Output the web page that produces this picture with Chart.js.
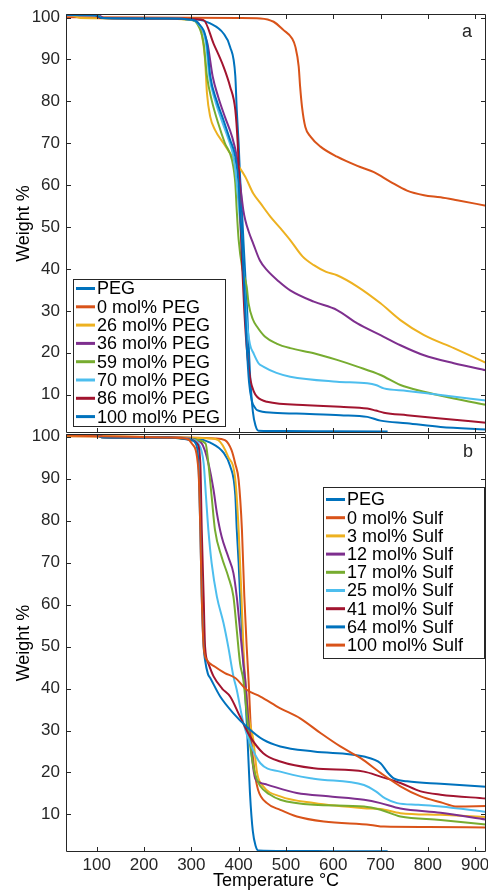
<!DOCTYPE html>
<html>
<head>
<meta charset="utf-8">
<script src="https://cdn.jsdelivr.net/npm/chart.js@4.4.1/dist/chart.umd.min.js"></script>
<style>
  body { margin: 0; background: #fff; width: 488px; height: 890px; overflow: hidden; position: relative; }
  canvas { position: absolute; left: 0; }
  #chartA { top: 0; }
  #chartB { top: 420px; }
</style>
</head>
<body>
<canvas id="chartA" width="488" height="440"></canvas>
<canvas id="chartB" width="488" height="470"></canvas>
<script>
// tick values
const xTicks = [100, 200, 300, 400, 500, 600, 700, 800, 900];
const yTicks = [10, 20, 30, 40, 50, 60, 70, 80, 90, 100];

const labelsA = ['PEG', '0 mol% PEG', '26 mol% PEG', '36 mol% PEG', '59 mol% PEG', '70 mol% PEG', '86 mol% PEG', '100 mol% PEG'];
const labelsB = ['PEG', '0 mol% Sulf', '3 mol% Sulf', '12 mol% Sulf', '17 mol% Sulf', '25 mol% Sulf', '41 mol% Sulf', '64 mol% Sulf', '100 mol% Sulf'];

// [temperature °C, weight %]
const peg = [[35,100.7],[100,100.6],[112,99.9],[250,99.8],[310,99.6],[340,98.6],[368,96.2],[382,93],[393,86],[396,78],[400,70],[403,62],[407,54],[410,47],[418,30],[424,15],[430,6],[436,2.5],[442,1.4],[500,1.3],[600,1.25],[715,1.2]];

// panel a
const a0 = [[35,100.1],[200,100],[400,99.9],[446,99.8],[474,99.0],[495,97.0],[513,95.0],[520,93.0],[527,88.3],[530,83.5],[534,78.7],[541,73.9],[552,71.6],[573,69.2],[608,66.8],[651,64.6],[686,63.1],[721,60.8],[756,58.7],[792,57.6],[827,57.1],[862,56.4],[923,55.1]];
const a26 = [[35,100.8],[50,100.5],[65,99.9],[200,99.8],[300,99.5],[315,98.5],[322,96.2],[329,90],[333,82],[340,76.3],[350,73.2],[368,70],[382,67.6],[396,65.2],[414,62],[431,58],[446,55.7],[467,52.5],[490,49.5],[509,46.9],[535,43],[559,40.9],[585,39.3],[608,38.5],[651,35.8],[700,31.8],[742,27.8],[792,24.2],[855,21.1],[923,17.6]];
const a36 = [[35,100.6],[105,100.5],[115,99.9],[250,99.8],[300,99.5],[315,98.6],[334,93.8],[345,86],[357,81],[371,76.3],[386,71.6],[396,66.8],[403,60.4],[410,54],[414,51.7],[421,49],[431,46],[445,42],[460,39.7],[485,37],[509,34.9],[559,32.2],[608,30.2],[651,27],[700,24.2],[742,21.8],[792,19.4],[855,17.5],[923,15.8]];
const a59 = [[35,100.8],[100,100.7],[110,99.9],[250,99.8],[300,99.4],[312,98.6],[326,93.8],[333,86],[343,80.3],[357,74.7],[371,70],[386,66],[393,60.4],[396,54],[400,47],[408,40],[417,35.8],[421,31.8],[430,28],[439,26.2],[456,23.8],[480,22.2],[509,21.1],[559,19.9],[608,18.3],[651,16.7],[700,14.7],[742,12.3],[792,10.7],[855,9.1],[923,7.6]];
const a70 = [[35,100.6],[100,100.5],[110,99.9],[250,99.8],[300,99.5],[314,98.6],[331,93.8],[338,86],[350,80.3],[364,75.5],[379,70.8],[389,66.8],[396,60.4],[401,54],[406,47],[412,36],[417,27.8],[424,22],[431,20],[442,17.5],[452,16.7],[480,15.2],[509,14.3],[608,13.1],[672,12.7],[690,12.3],[707,11.5],[756,10.9],[827,9.9],[923,8.6]];
const a86 = [[35,100.8],[95,100.7],[107,99.9],[250,99.8],[310,99.6],[326,99.4],[347,93.8],[368,88.3],[382,83.5],[393,77.9],[398,70],[401,62],[403,54],[407,42],[412,30],[418,20],[425,13.5],[432,10.8],[439,9.5],[460,8.3],[545,7.5],[615,7.1],[672,6.7],[690,6.2],[707,5.7],[756,5.1],[827,4.3],[923,3.3]];
const a100 = [[35,100.6],[100,100.5],[110,99.9],[250,99.8],[300,99.5],[315,98.6],[333,93.8],[340,86],[354,80],[368,75.5],[382,70.8],[393,66.8],[400,60.4],[403,54],[407,47],[412,35],[417,22],[422,13],[428,8.5],[435,6.8],[439,6.3],[473,5.7],[550,5.4],[615,5.1],[672,4.7],[700,3.8],[756,3.2],[827,2.3],[923,1.7]];

// panel b
const b0 = [[35,100.1],[250,99.9],[350,99.6],[371,99.2],[385,96.8],[393,93.5],[400,89.7],[407,77.8],[412,62],[417,50],[421,42],[427,27.8],[434,20],[441,15.9],[460,12.7],[488,11.1],[523,9.5],[580,8.3],[679,7.5],[707,7.1],[800,7.0],[923,6.9]];
const b3 = [[35,100.2],[250,99.9],[340,99.6],[357,99.2],[378,95.2],[393,89.7],[400,77.8],[406,62],[410,50],[414,42],[422,33],[431,27.8],[439,19.9],[452,16.7],[488,14.3],[559,12.7],[665,11.5],[700,11.3],[742,10.3],[827,9.9],[923,9.4]];
const b12 = [[35,100.5],[105,100.4],[115,99.9],[250,99.8],[300,99.5],[322,98.4],[336,93.7],[347,87.3],[354,81.8],[364,76.2],[378,71.4],[389,67.5],[396,61.9],[403,54],[410,46],[414,42],[420,33],[426,26],[431,21],[435,18.6],[445,17.6],[460,17.1],[523,15.1],[594,14.3],[665,13.5],[700,12.7],[742,11.4],[827,10.4],[923,8.8]];
const b17 = [[35,100.7],[100,100.6],[110,99.9],[250,99.8],[300,99.4],[330,98.4],[336,93.7],[343,85.7],[350,77.8],[364,71.4],[378,66.7],[389,61.9],[396,54],[403,46],[410,42],[418,33],[426,25],[435,19.5],[446,16.7],[465,14.8],[488,13.5],[559,12.3],[665,11.9],[700,11.1],[742,9.5],[827,8.7],[923,7.6]];
const b25 = [[35,100.5],[100,100.4],[110,99.9],[250,99.8],[300,99.4],[315,98.4],[326,93.7],[331,85.7],[336,77.8],[343,69.8],[354,61.9],[368,55.6],[378,50],[389,42.9],[396,39.7],[410,31.8],[427,26.2],[446,22.2],[488,20.2],[559,18.5],[665,17],[690,15.5],[710,13.8],[735,12.7],[780,12.3],[827,11.9],[923,10.6]];
const b41 = [[35,100.6],[100,100.5],[110,99.9],[250,99.8],[300,99.3],[312,98.4],[319,93.7],[322,77.8],[326,62],[329,50],[336,46],[347,42.9],[365,40],[382,38.1],[403,33.3],[424,28.6],[452,24.6],[488,22.6],[559,21],[665,20.2],[700,19],[742,17.5],[785,15.5],[827,14.7],[923,13.8]];
const b64 = [[35,100.6],[100,100.5],[110,99.9],[250,99.8],[300,99.2],[309,98.4],[315,93.7],[319,77.8],[322,62],[326,50],[329,46.8],[335,43.5],[340,42.5],[361,38.1],[389,34.1],[417,30.9],[452,27.8],[488,26.2],[559,25],[665,23.8],[700,22.2],[715,20],[728,18.6],[756,17.9],[827,17.3],[923,16.6]];
const b100 = [[35,100.3],[250,99.8],[290,99.5],[301,98.4],[315,92.1],[319,77.8],[322,61.9],[326,50],[333,46.8],[350,45.2],[371,43.7],[393,42.5],[417,39.7],[446,38.1],[488,35.3],[530,32.9],[573,29.4],[615,26.2],[658,23.4],[700,19.9],[742,16.7],[785,14.3],[827,12.9],[862,11.9],[923,12.0]];

const seriesA = [peg, a0, a26, a36, a59, a70, a86, a100];
const seriesB = [peg, b0, b3, b12, b17, b25, b41, b64, b100];

// matlab default line colours
const palette = ['#0072BD', '#D95319', '#EDB120', '#7E2F8E', '#77AC30', '#4DBEEE', '#A2142F'];
const axisColor = '#262626';
const fontFamily = '"Liberation Sans", Arial, Helvetica, sans-serif';

Chart.defaults.font.family = fontFamily;
Chart.defaults.color = axisColor;

function makeDatasets(series, labels) {
    return series.map((pts, i) => ({
        label: labels[i],
        data: pts.map(p => ({x: p[0], y: p[1]})),
        borderColor: palette[i % palette.length],
        backgroundColor: palette[i % palette.length],
        borderWidth: 2,
        pointRadius: 0,
        cubicInterpolationMode: 'monotone',
        order: -i
    }));
}

// box, inward ticks, panel letter and legend (matlab look)
const framePlugin = {
    id: 'frame',
    afterDatasetsDraw(chart, args, opts) {
        const {ctx, chartArea, scales} = chart;
        const {left, right, top, bottom} = chartArea;
        const x = scales.x, y = scales.y;
        ctx.save();
        ctx.strokeStyle = axisColor;
        ctx.lineWidth = 1;
        ctx.beginPath();
        ctx.rect(left + 0.5, top + 0.5, right - left - 1, bottom - top - 1);
        const tl = 5;
        xTicks.forEach(v => {
            const px = Math.round(x.getPixelForValue(v)) + 0.5;
            ctx.moveTo(px, top); ctx.lineTo(px, top + tl);
            ctx.moveTo(px, bottom); ctx.lineTo(px, bottom - tl);
        });
        yTicks.forEach(v => {
            const py = Math.round(y.getPixelForValue(v)) + 0.5;
            ctx.moveTo(left, py); ctx.lineTo(left + tl, py);
            ctx.moveTo(right, py); ctx.lineTo(right - tl, py);
        });
        ctx.stroke();

        // panel letter
        ctx.fillStyle = axisColor;
        ctx.font = '18px ' + fontFamily;
        ctx.textAlign = 'center';
        ctx.textBaseline = 'middle';
        ctx.fillText(opts.letter, opts.letterX, opts.letterY);

        // legend
        const lg = opts.legend;
        ctx.fillStyle = '#fff';
        ctx.fillRect(lg.x, lg.y, lg.w, lg.h);
        ctx.strokeStyle = axisColor;
        ctx.strokeRect(lg.x + 0.5, lg.y + 0.5, lg.w, lg.h);
        ctx.textAlign = 'left';
        ctx.font = '18px ' + fontFamily;
        chart.data.datasets.forEach((ds, i) => {
            const cy = lg.first + i * lg.step;
            ctx.strokeStyle = ds.borderColor;
            ctx.lineWidth = 3;
            ctx.beginPath();
            ctx.moveTo(lg.x + 3, cy);
            ctx.lineTo(lg.x + 22, cy);
            ctx.stroke();
            ctx.fillStyle = '#000';
            ctx.fillText(ds.label, lg.x + 24, cy + 1);
        });
        ctx.restore();
    }
};

function yScale(min, max) {
    return {
        type: 'linear',
        min: min,
        max: max,
        afterBuildTicks: s => { s.ticks = yTicks.map(v => ({value: v})); },
        afterFit: s => { s.width = 66; s.paddingTop = 0; s.paddingBottom = 0; },
        grid: {display: false, drawTicks: false},
        border: {display: false},
        ticks: {padding: 6, color: axisColor, font: {size: 17}},
        title: {display: true, text: 'Weight %', color: '#000', font: {size: 18, lineHeight: 1}, padding: {top: 15, bottom: 0}}
    };
}

new Chart(document.getElementById('chartA'), {
    type: 'line',
    data: {datasets: makeDatasets(seriesA, labelsA)},
    options: {
        responsive: false,
        animation: false,
        layout: {padding: {left: 0, right: 2, top: 14, bottom: 7}},
        scales: {
            x: {type: 'linear', min: 35, max: 923, display: false},
            y: yScale(0.85, 100.85)
        },
        plugins: {
            legend: {display: false},
            tooltip: {enabled: false},
            frame: {
                letter: 'a', letterX: 467, letterY: 32,
                legend: {x: 73, y: 279, w: 152, h: 147, first: 288.5, step: 18.3}
            }
        }
    },
    plugins: [framePlugin]
});

new Chart(document.getElementById('chartB'), {
    type: 'line',
    data: {datasets: makeDatasets(seriesB, labelsB)},
    options: {
        responsive: false,
        animation: false,
        layout: {padding: {left: 0, right: 2, top: 14, bottom: 0}},
        scales: {
            x: {
                type: 'linear',
                min: 35,
                max: 923,
                afterBuildTicks: s => { s.ticks = xTicks.map(v => ({value: v})); },
                afterFit: s => { s.height = 38; s.paddingLeft = 0; s.paddingRight = 0; },
                grid: {display: false, drawTicks: false},
                border: {display: false},
                ticks: {padding: 3, maxRotation: 0, color: axisColor, font: {size: 17}},
                title: {display: true, text: 'Temperature °C', color: '#000', font: {size: 18, lineHeight: 1}, padding: {top: 0, bottom: 0}}
            },
            y: yScale(1.05, 100.65)
        },
        plugins: {
            legend: {display: false},
            tooltip: {enabled: false},
            frame: {
                letter: 'b', letterX: 468, letterY: 32,
                legend: {x: 323, y: 67, w: 161, h: 171, first: 79.5, step: 18.2}
            }
        }
    },
    plugins: [framePlugin]
});
</script>
</body>
</html>
